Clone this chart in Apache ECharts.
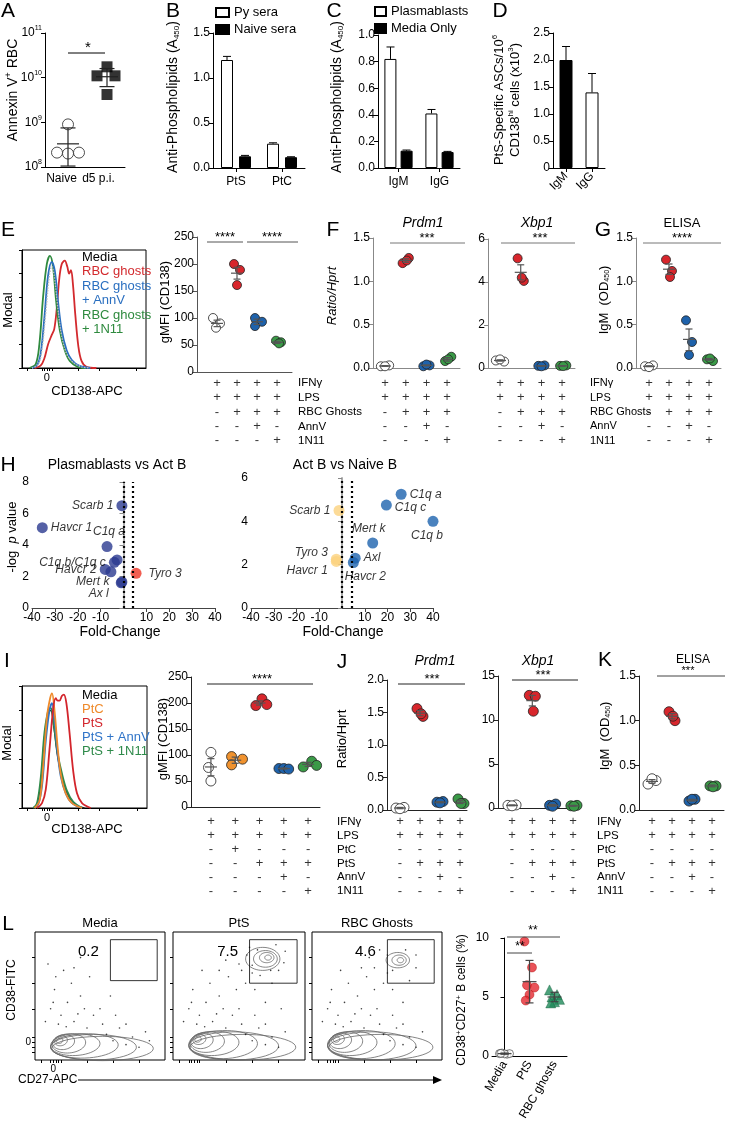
<!DOCTYPE html>
<html><head><meta charset="utf-8">
<script src="https://cdn.jsdelivr.net/npm/echarts@6/dist/echarts.min.js"></script>
<style>html,body{margin:0;padding:0;background:#fff}#c{width:738px;height:1128px}</style>
</head><body><div id="c"></div>
<script>
// ================= DATA =================
// A
const A_cats = ['Naive', 'd5 p.i.'];
const A_naive = [2.1e8, 2.0e8, 2.1e8, 9.0e8];
const A_naiveX = [0.6, 1.15, 1.7, 1.15];
const A_naiveStat = [3.3e8, 1.05e8, 7.5e8];
const A_d5 = [1.75e10, 1.1e10, 1.1e10, 4.2e9];
const A_d5X = [3.1, 2.6, 3.5, 3.1];
const A_d5Stat = [1.05e10, 6.3e9, 1.6e10];
// B
const B_cats = ['PtS', 'PtC'];
const B_py = [1.2, 0.27], B_pyErr = [1.24, 0.28];
const B_naive = [0.13, 0.12], B_naiveErr = [0.14, 0.125];
// C
const C_cats = ['IgM', 'IgG'];
const C_pb = [0.82, 0.41], C_pbErr = [0.91, 0.44];
const C_media = [0.13, 0.12], C_mediaErr = [0.135, 0.125];
// D
const D_cats = ['IgM', 'IgG'];
const D_vals = [2.0, 1.4], D_err = [2.25, 1.75];
// E histograms [position, % of mode]
const E_hRed = [[10,0],[15,2],[18,8],[21,20],[24,28],[26,33],[28,50],[30,75],[32,88],[34.5,91],[36.5,86],[38,80],[39.5,83],[41,72],[43,45],[45.5,18],[48,6],[52,1],[60,0]];
const E_hGreen = [[6,0],[11,3],[14,20],[17,60],[20,88],[22.5,95],[25,86],[27.5,57],[30.5,32],[34.5,15],[38.5,6],[45,1],[52,0]];
const E_hBlue = [[8,0],[12,2],[15,12],[18,42],[21,78],[24,90],[26.5,82],[29,57],[32,32],[36,15],[40,7],[46,2],[55,0]];
const E_hMedia = [[8,0],[13,3],[16,15],[19,45],[22,78],[24,86],[26,78],[29,50],[32,27],[36,12],[41,5],[48,1],[55,0]];
// E scatter (gMFI CD138)
const E_vals = [[100, 90, 82], [200, 189, 161], [100, 93, 85], [58, 55, 53]];
const E_jit = [[-0.2, 0.15, -0.05], [-0.15, 0.15, 0], [-0.1, 0.25, -0.1], [-0.05, 0.2, 0.1]];
const E_stat = [[90, 84, 96], [183, 172, 194], [93, 88, 98], [55, 53, 57]];
const E_rows = ['IFNγ', 'LPS', 'RBC Ghosts', 'AnnV', '1N11'];
const E_signs = ['++++', '++++', '-+++', '--+-', '---+'];
// F
const F1_vals = [[0.02, 0.03, 0.02], [1.21, 1.27, 1.24], [0.02, 0.03, 0.04], [0.08, 0.13, 0.10]];
const F1_stat = [[0.023, 0.02, 0.027], [1.24, 1.22, 1.26], [0.03, 0.025, 0.035], [0.10, 0.08, 0.12]];
const F2_vals = [[0.35, 0.3, 0.4], [5.1, 4.05, 4.2], [0.1, 0.12, 0.08], [0.1, 0.12, 0.09]];
const F2_stat = [[0.35, 0.32, 0.38], [4.45, 4.1, 4.8], [0.1, 0.09, 0.11], [0.1, 0.09, 0.11]];
// G
const G_vals = [[0.02, 0.03, 0.01], [1.25, 1.12, 1.05], [0.55, 0.3, 0.15], [0.1, 0.08, 0.11]];
const G_stat = [[0.02, 0.015, 0.025], [1.14, 1.08, 1.2], [0.33, 0.2, 0.45], [0.1, 0.09, 0.11]];
// H
const H1_genes = ['Scarb 1', 'Havcr 1', 'C1q a', 'C1q b/C1q c', '', 'Havcr 2', '', 'Mert k', 'Ax l', 'Tyro 3'];
const H1_fc = [-0.7, -35.5, -7.2, -4, -2.8, -8, -5.5, -0.7, -1.0, 5.5];
const H1_p = [6.5, 5.1, 3.9, 2.9, 3.05, 2.45, 2.3, 1.65, 1.6, 2.2];
const H2_genes = ['C1q a', 'C1q c', 'C1q b', 'Scarb 1', 'Mert k', 'Axl', 'Havcr 2', 'Tyro 3', 'Havcr 1'];
const H2_fc = [26, 19.5, 40, -1.3, 13.5, 5.8, 5, -2.5, -2.5];
const H2_p = [5.25, 4.75, 4.0, 4.5, 3.0, 2.3, 2.1, 2.25, 2.15];
const H_ticks = [-40, -30, -20, -10, 10, 20, 30, 40];
const H_cut = [0, 4.2];
// I histograms
const I_hOrange = [[10,0],[14,6],[17,35],[20,75],[22.5,90],[24,94],[26,80],[28.5,50],[31,28],[35,12],[40,4],[48,0]];
const I_hRed = [[12,0],[16,4],[19,15],[22,48],[25,82],[27,90],[28.5,88],[30,88],[32,92],[33.5,93],[35.5,86],[38,62],[41,30],[44,12],[48,4],[55,0]];
const I_hBlue = [[10,0],[13,3],[16,18],[19,55],[22,80],[24,86],[26,72],[28.5,45],[31,26],[35,12],[40,4],[48,0]];
const I_hGreen = [[9,0],[12,4],[15,25],[18,62],[21,80],[23,82],[25.5,68],[28.5,45],[32,28],[36,14],[41,5],[48,0]];
const I_hMedia = [[9,0],[12,3],[15,20],[18,58],[21,78],[23,80],[25.5,66],[28.5,42],[32,25],[36,12],[42,3],[50,0]];
// I scatter
const I_vals = [[105, 76, 50], [97, 92, 81], [208, 195, 197], [74, 74, 73], [88, 77, 80]];
const I_jit = [[0, -0.1, 0], [-0.15, 0.3, -0.15], [0.1, -0.15, 0.3], [-0.2, 0, 0.2], [0.15, -0.2, 0.35]];
const I_stat = [[77, 60, 93], [90, 84, 96], [200, 196, 204], [74, 73, 75], [82, 78, 86]];
const I_rows = ['IFNγ', 'LPS', 'PtC', 'PtS', 'AnnV', '1N11'];
const I_signs = ['+++++', '+++++', '-+---', '--+++', '---+-', '----+'];
// J, K
const J1_vals = [[0.03, 0.04, 0.02], [1.56, 1.44, 1.48], [0.12, 0.13, 0.11], [0.17, 0.1, 0.1]];
const J1_stat = [[0.03, 0.02, 0.04], [1.49, 1.45, 1.53], [0.12, 0.11, 0.13], [0.12, 0.1, 0.15]];
const J2_vals = [[0.3, 0.35, 0.25], [12.8, 12.7, 11.0], [0.3, 0.45, 0.2], [0.25, 0.3, 0.2]];
const J2_stat = [[0.3, 0.25, 0.35], [12.2, 11.6, 12.8], [0.3, 0.2, 0.4], [0.25, 0.2, 0.3]];
const K_vals = [[0.29, 0.33, 0.35], [1.1, 1.0, 1.05], [0.1, 0.12, 0.12], [0.27, 0.27, 0.26]];
const K_stat = [[0.32, 0.3, 0.34], [1.05, 1.02, 1.08], [0.11, 0.1, 0.12], [0.27, 0.26, 0.28]];
const JK_signs = ['++++', '++++', '----', '-+++', '--+-', '---+'];
const EG_jit = [[-0.2, 0.2, 0], [-0.15, 0.15, 0.05], [-0.15, 0.15, 0], [-0.1, 0.2, 0.05]];
// L flow contour rings [cx, cy, rx, ry, angle]
const L1_rings = [[19,15,2.5,2,20],[20,15,5,3.8,15],[22,14,8.5,5.8,10],[26,13,13,7.5,5],[31,12,19,8.5,3],[38,11,26,9.5,2],[45,10,33,10,0],[52,9,39,9.5,0]];
const L2_rings = [[19,16,2.5,2,20],[20,16,5,3.8,15],[22,15,8.5,6,10],[26,14,13,8,5],[31,13,19,9.5,3],[38,12,26,11,2],[46,11,34,11,0],[53,10,40,10,0],[72,80,2.5,2,0],[71,80,5.5,4,0],[70,79,9,6.5,0],[68,79,13,9,0]];
const L3_rings = [[19,16,2.5,2,20],[20,16,5,3.8,15],[22,15,8.5,6,10],[26,14,13,8,5],[31,13,19,9.5,3],[38,12,26,11,2],[46,11,34,11,0],[53,10,40,10,0],[68,78,2.5,2,0],[67,78,5.5,4,0],[66,78,9,6,0]];
const L1_dots = [[12,40],[20,35],[25,45],[30,30],[40,25],[45,35],[15,55],[35,50],[55,20],[60,15],[70,12],[8,30],[28,60],[50,40],[65,25],[75,18],[22,70],[42,65],[80,10],[10,75],[35,80],[58,50],[18,28],[24,26],[33,36],[14,45],[38,40],[52,28],[62,35],[70,28],[85,22],[16,65],[30,72],[48,88],[88,15]];
const L2_dots = [[12,40],[20,35],[25,45],[30,30],[40,25],[45,35],[15,55],[35,50],[55,20],[60,15],[70,12],[8,30],[28,60],[50,40],[65,25],[75,18],[22,70],[42,65],[80,10],[55,60],[60,68],[50,75],[45,82],[40,78],[62,55],[75,60],[80,70],[85,85],[58,88],[52,70],[35,70],[48,55],[70,45],[82,40],[18,28],[24,26],[33,36],[14,45],[38,40],[52,28],[62,35],[70,28],[85,22],[56,82],[64,86],[78,90],[84,76],[60,74],[66,66],[74,70]];
const L3_dots = [[12,40],[20,35],[25,45],[30,30],[40,25],[45,35],[15,55],[35,50],[55,20],[60,15],[70,12],[8,30],[28,60],[50,40],[65,25],[75,18],[22,70],[42,65],[80,10],[55,60],[58,68],[48,72],[44,80],[62,55],[75,62],[80,72],[52,86],[38,72],[48,55],[70,45],[18,28],[24,26],[33,36],[14,45],[38,40],[52,28],[62,35],[70,28],[85,22],[58,82],[72,86],[80,82],[62,70]];
const L_gates = [[58, 62, 94, 94], [58, 60, 94, 94], [58, 60, 94, 94]];
const L_gatePct = ['0.2', '7.5', '4.6'];
const L_titles = ['Media', 'PtS', 'RBC Ghosts'];
// L scatter
const L_cats = ['Media', 'PtS', 'RBC ghosts'];
const L_media = [0.2, 0.15, 0.25, 0.2, 0.18, 0.22];
const L_pts = [9.7, 7.5, 6.0, 5.8, 5.2, 4.7];
const L_rbc = [5.6, 5.2, 5.0, 4.8, 4.6, 4.5];
const L_jit = [-0.2, 0.1, -0.1, 0.2, 0, -0.15];
const L_stat = [[0.2, 0.15, 0.25], [6.3, 4.5, 8.1], [5.0, 4.6, 5.4]];

// ================= BUILD =================
const FONT = '"Liberation Sans", Arial, Helvetica, sans-serif';
const RED = '#d8262c', BLUE = '#1e62ab', GREEN = '#3a9a47', ORANGE = '#f0922e';
const grid = [], xAxis = [], yAxis = [], series = [], graphic = [];
function merge(a, b) { for (const k in b) { const v = b[k]; if (v && typeof v === 'object' && !Array.isArray(v) && a[k] && typeof a[k] === 'object' && !Array.isArray(a[k])) merge(a[k], v); else a[k] = v; } return a; }
function G(l, t, w, h, o) { grid.push(merge({ left: l, top: t, width: w, height: h }, o || {})); return grid.length - 1; }
function X(gi, o) { xAxis.push(merge({ gridIndex: gi, type: 'value', splitLine: { show: false }, axisLine: { show: true, lineStyle: { color: '#000', width: 1 } }, axisTick: { show: false }, axisLabel: { show: false, fontSize: 12, color: '#000', fontFamily: FONT } }, o || {})); return xAxis.length - 1; }
function Y(gi, o) { yAxis.push(merge({ gridIndex: gi, type: 'value', splitLine: { show: false }, axisLine: { show: true, lineStyle: { color: '#000', width: 1 } }, axisTick: { show: true, length: 4, lineStyle: { color: '#000' } }, axisLabel: { fontSize: 12, color: '#000', fontFamily: FONT, margin: 3 } }, o || {})); return yAxis.length - 1; }
function T(x, y, text, o) {
  o = o || {}; const rot = o.rot || 0; delete o.rot;
  graphic.push({ type: 'text', x: x, y: y, rotation: rot, z: 20, style: merge({ text: text, font: '12px ' + FONT, fill: '#000', align: 'center', verticalAlign: 'middle' }, o) });
}
function Ln(x1, y1, x2, y2, o) { graphic.push({ type: 'line', z: 20, shape: { x1, y1, x2, y2 }, style: merge({ stroke: '#000', lineWidth: 1 }, o || {}) }); }
function errRender(meanW, capW, color) {
  return function (params, api) {
    const x = api.value(0), a = api.coord([x, api.value(1)]), b = api.coord([x, api.value(2)]), c = api.coord([x, api.value(3)]);
    const st = { stroke: color, lineWidth: 1.2 };
    return { type: 'group', children: [
      { type: 'line', shape: { x1: a[0] - meanW / 2, y1: a[1], x2: a[0] + meanW / 2, y2: a[1] }, style: st },
      { type: 'line', shape: { x1: b[0], y1: b[1], x2: c[0], y2: c[1] }, style: st },
      { type: 'line', shape: { x1: b[0] - capW / 2, y1: b[1], x2: b[0] + capW / 2, y2: b[1] }, style: st },
      { type: 'line', shape: { x1: c[0] - capW / 2, y1: c[1], x2: c[0] + capW / 2, y2: c[1] }, style: st }] };
  };
}
function barErr(xi, yi, vals, tops, offset) {
  series.push({ type: 'custom', xAxisIndex: xi, yAxisIndex: yi, z: 5, silent: true,
    data: vals.map((v, i) => [i, v, tops[i]]),
    renderItem: (p, api) => { const a = api.coord([api.value(0), api.value(1)]), b = api.coord([api.value(0), api.value(2)]); const x = a[0] + offset;
      return { type: 'group', children: [
        { type: 'line', shape: { x1: x, y1: a[1], x2: x, y2: b[1] }, style: { stroke: '#000', lineWidth: 1 } },
        { type: 'line', shape: { x1: x - 4, y1: b[1], x2: x + 4, y2: b[1] }, style: { stroke: '#000', lineWidth: 1 } }] }; } });
}
function signTable(l, w, xmin, xmax, top, h, rows, signs, side, margin, lfs) {
  const gi = G(l, top, w, h);
  const xi = X(gi, { min: xmin, max: xmax, axisLine: { show: false } });
  const yi = Y(gi, { type: 'category', data: rows, inverse: true, position: side || 'left', axisLine: { show: false }, axisTick: { show: false },
    axisLabel: { show: !!side, interval: 0, align: 'left', margin: margin || 6, fontSize: lfs || 11.5 } });
  const data = [];
  signs.forEach((s, r) => { [...s].forEach((ch, c) => data.push({ value: [c + 1, r], sign: ch })); });
  series.push({ type: 'scatter', xAxisIndex: xi, yAxisIndex: yi, symbolSize: 1, silent: true, itemStyle: { color: 'rgba(0,0,0,0)' }, data, z: 6,
    label: { show: true, position: 'inside', formatter: p => p.data.sign, fontSize: 13, color: '#000', fontFamily: FONT } });
}
function dotPanel(p) {
  const gi = G(p.l, p.t, p.w, p.h);
  const ac = p.axisColor || '#444';
  const xi = X(gi, { min: p.xmin, max: p.xmax, axisLine: { lineStyle: { color: ac } } });
  const yi = Y(gi, { min: p.ymin, max: p.ymax, interval: p.interval, axisLine: { lineStyle: { color: ac } }, axisTick: { lineStyle: { color: ac } }, axisLabel: { formatter: p.fmt } });
  p.vals.forEach((col, c) => {
    series.push({ type: 'scatter', xAxisIndex: xi, yAxisIndex: yi, symbolSize: p.size || 9, z: 3,
      data: col.map((v, i) => [c + 1 + (p.jit ? p.jit[c][i] : 0), v]),
      itemStyle: { color: p.colors[c], borderColor: '#222', borderWidth: 0.8, opacity: 1 } });
  });
  series.push({ type: 'custom', xAxisIndex: xi, yAxisIndex: yi, z: 4, silent: true, renderItem: errRender(p.meanW || 12, p.capW || 7, '#555'),
    data: p.stat.map((s, c) => [c + 1, s[0], s[1], s[2]]) });
  return { xi, yi };
}
const f1 = v => v.toFixed(1);
const f0 = v => String(v);

// ---------- Panel letters ----------
[['A',8,11],['B',173,11],['C',334,11],['D',500,11],['E',8,230],['F',333,230],['G',603,230],['H',8,465],['I',7,661],['J',342,662],['K',605,660],['L',8,924]]
  .forEach(l => T(l[1], l[2], l[0], { font: '21px ' + FONT }));

// ---------- A ----------
{
  const gi = G(45, 33, 80, 134);
  const xi = X(gi, { min: 0, max: 4 });
  const yi = Y(gi, { type: 'log', logBase: 10, min: 1e8, max: 1e11,
    axisLabel: { formatter: v => '{b|10}{s|' + Math.round(Math.log10(v)) + '}', rich: { b: { fontSize: 12, fontFamily: FONT }, s: { fontSize: 7, fontFamily: FONT, padding: [0, 0, 9, 0] } } },
    minorTick: { show: false } });
  const gl = G(43, 33, 74, 134);
  X(gl, { type: 'category', data: A_cats, axisLine: { show: false }, axisLabel: { show: true, interval: 0, fontSize: 12, margin: 6 } });
  Y(gl, { show: false });
  series.push({ type: 'scatter', xAxisIndex: xi, yAxisIndex: yi, symbol: 'circle', symbolSize: 11, z: 3,
    data: A_naive.map((v, i) => [A_naiveX[i], v]), itemStyle: { color: '#fff', borderColor: '#222', borderWidth: 1 } });
  series.push({ type: 'scatter', xAxisIndex: xi, yAxisIndex: yi, symbol: 'rect', symbolSize: 11, z: 3,
    data: A_d5.map((v, i) => [A_d5X[i], v]), itemStyle: { color: '#000' } });
  series.push({ type: 'custom', xAxisIndex: xi, yAxisIndex: yi, z: 4, renderItem: errRender(22, 15, '#222'),
    data: [[1.15].concat(A_naiveStat), [3.1].concat(A_d5Stat)] });
  Ln(68, 53, 105, 53); T(88, 48, '*', { font: '15px ' + FONT });
  T(13, 90, '{n|Annexin V}{s|+}{n| RBC}', { rot: Math.PI / 2, rich: { n: { fontSize: 14, fontFamily: FONT }, s: { fontSize: 9, fontFamily: FONT, padding: [0, 0, 8, 0] } } });
}

// ---------- B ----------
{
  const gi = G(213, 33, 92, 135);
  const xi = X(gi, { type: 'category', data: B_cats, axisTick: { show: true, alignWithLabel: true, length: 4 }, axisLabel: { show: true, fontSize: 12, margin: 8 } });
  const yi = Y(gi, { min: 0, max: 1.5, interval: 0.5, axisLabel: { formatter: f1 } });
  series.push({ type: 'bar', name: 'Py sera', xAxisIndex: xi, yAxisIndex: yi, data: B_py, barWidth: 12, barGap: '50%', itemStyle: { color: '#fff', borderColor: '#000', borderWidth: 1 } });
  series.push({ type: 'bar', name: 'Naive sera', xAxisIndex: xi, yAxisIndex: yi, data: B_naive, barWidth: 12, barGap: '50%', itemStyle: { color: '#000', borderColor: '#000', borderWidth: 1 } });
  barErr(xi, yi, B_py, B_pyErr, -9); barErr(xi, yi, B_naive, B_naiveErr, 9);
  T(173, 97, 'Anti-Phospholipids (A{s|450})', { rot: Math.PI / 2, font: '14px ' + FONT, rich: { s: { fontSize: 8, fontFamily: FONT, padding: [8, 0, 0, 0] } } });
}
// ---------- C ----------
{
  const gi = G(378, 35, 82, 133);
  const xi = X(gi, { type: 'category', data: C_cats, axisTick: { show: true, alignWithLabel: true, length: 4 }, axisLabel: { show: true, fontSize: 12, margin: 8 } });
  const yi = Y(gi, { min: 0, max: 1.0, interval: 0.2, axisLabel: { formatter: f1 } });
  series.push({ type: 'bar', name: 'Plasmablasts', xAxisIndex: xi, yAxisIndex: yi, data: C_pb, barWidth: 12, barGap: '35%', itemStyle: { color: '#fff', borderColor: '#000', borderWidth: 1 } });
  series.push({ type: 'bar', name: 'Media Only', xAxisIndex: xi, yAxisIndex: yi, data: C_media, barWidth: 12, barGap: '35%', itemStyle: { color: '#000', borderColor: '#000', borderWidth: 1 } });
  barErr(xi, yi, C_pb, C_pbErr, -8); barErr(xi, yi, C_media, C_mediaErr, 8);
  T(337, 97, 'Anti-Phospholipids (A{s|450})', { rot: Math.PI / 2, font: '14px ' + FONT, rich: { s: { fontSize: 8, fontFamily: FONT, padding: [8, 0, 0, 0] } } });
}
// ---------- D ----------
{
  const gi = G(553, 33, 52, 135);
  const xi = X(gi, { type: 'category', data: D_cats, axisTick: { show: true, alignWithLabel: true, length: 4 }, axisLabel: { show: true, rotate: 45, fontSize: 12, margin: 6 } });
  const yi = Y(gi, { min: 0, max: 2.5, interval: 0.5, axisLabel: { formatter: v => v === 0 ? '0' : v.toFixed(1) } });
  series.push({ type: 'bar', xAxisIndex: xi, yAxisIndex: yi, barWidth: 13,
    data: D_vals.map((v, i) => ({ value: v, itemStyle: { color: i === 0 ? '#000' : '#fff', borderColor: '#000', borderWidth: 1 } })) });
  barErr(xi, yi, D_vals, D_err, 0);
  T(499, 100, 'PtS-Specific ASCs/10{s|6}', { rot: Math.PI / 2, font: '13px ' + FONT, rich: { s: { fontSize: 8, fontFamily: FONT, padding: [0, 0, 8, 0] } } });
  T(515, 100, 'CD138{s|hi} cells (x10{s|3})', { rot: Math.PI / 2, font: '13px ' + FONT, rich: { s: { fontSize: 8, fontFamily: FONT, padding: [0, 0, 8, 0] } } });
}

// ---------- histogram helper ----------
function histPanel(l, t, w, h, curves, legendItems, legX, legY0, legDY) {
  const gi = G(l, t, w, h, { show: true, borderColor: '#000', borderWidth: 1, backgroundColor: 'transparent' });
  const xi = X(gi, { min: 0, max: 100, axisTick: { show: true, length: 3, customValues: [4, 16, 18, 20, 22, 24, 45, 62, 92] }, axisLabel: { show: true, customValues: [20], formatter: () => '0', fontSize: 11, margin: 4 } });
  const yi = Y(gi, { min: 0, max: 100, interval: 20, axisLabel: { show: false }, axisTick: { length: 3 } });
  curves.forEach(c => series.push({ type: 'line', xAxisIndex: xi, yAxisIndex: yi, data: c.d, smooth: 0.35, showSymbol: false, silent: true, z: c.z || 2,
    lineStyle: { color: c.color, width: c.width || 1.8, type: c.type || 'solid' } }));
  legendItems.forEach((it, i) => T(legX, legY0 + i * legDY, it[0], { align: 'left', fill: it[1], font: '13px ' + FONT }));
}
// ---------- E ----------
histPanel(22, 250, 124, 118, [
  { d: E_hRed, color: '#d32a2e' }, { d: E_hGreen, color: '#2e8a3e' }, { d: E_hBlue, color: '#2a6fc0' },
  { d: E_hMedia, color: '#bbb', type: 'dotted', width: 1.4, z: 3 }],
  [['Media', '#000'], ['RBC ghosts', '#d32a2e'], ['RBC ghosts', '#2a6fc0'], ['+ AnnV', '#2a6fc0'], ['RBC ghosts', '#2e8a3e'], ['+ 1N11', '#2e8a3e']], 82, 257, 14.5);
T(8, 310, 'Modal', { rot: Math.PI / 2, font: '13px ' + FONT });
T(87, 391, 'CD138-APC', { font: '13px ' + FONT });

dotPanel({ l: 197, t: 237, w: 95, h: 135, xmin: 0, xmax: 4.75, ymin: 0, ymax: 250, interval: 50, fmt: f0, vals: E_vals, jit: E_jit, stat: E_stat, colors: ['#fff', RED, BLUE, GREEN], axisColor: '#555' });
signTable(197, 95, 0, 4.75, 376, 72, E_rows, E_signs, 'right', 6);
Ln(207, 242, 243, 242, { stroke: '#555' }); T(225, 237, '****', { font: '13px ' + FONT });
Ln(247, 242, 298, 242, { stroke: '#555' }); T(272, 237, '****', { font: '13px ' + FONT });
T(165, 302, 'gMFI (CD138)', { rot: Math.PI / 2, font: '13px ' + FONT });

// ---------- F ----------
dotPanel({ l: 373, t: 238, w: 87, h: 130, xmin: 0.42, xmax: 4.62, ymin: 0, ymax: 1.5, interval: 0.5, fmt: f1, vals: F1_vals, jit: EG_jit, stat: F1_stat, colors: ['#fff', RED, BLUE, GREEN], axisColor: '#888' });
signTable(373, 87, 0.42, 4.62, 376, 72, E_rows, E_signs, null);
Ln(390, 243, 465, 243, { stroke: '#777' }); T(427, 238, '***', { font: '13px ' + FONT });
T(423, 223, 'Prdm1', { font: 'italic 14px ' + FONT });
dotPanel({ l: 488, t: 239, w: 87, h: 129, xmin: 0.42, xmax: 4.62, ymin: 0, ymax: 6, interval: 2, fmt: f0, vals: F2_vals, jit: EG_jit, stat: F2_stat, colors: ['#fff', RED, BLUE, GREEN], axisColor: '#888' });
signTable(488, 87, 0.42, 4.62, 376, 72, E_rows, E_signs, null);
Ln(501, 243, 575, 243, { stroke: '#777' }); T(540, 238, '***', { font: '13px ' + FONT });
T(537, 223, 'Xbp1', { font: 'italic 14px ' + FONT });
T(332, 296, 'Ratio/Hprt', { rot: Math.PI / 2, font: 'italic 13px ' + FONT });

// ---------- G ----------
dotPanel({ l: 636, t: 238, w: 85, h: 130, xmin: 0.35, xmax: 4.6, ymin: 0, ymax: 1.5, interval: 0.5, fmt: f1, vals: G_vals, jit: EG_jit, stat: G_stat, colors: ['#fff', RED, BLUE, GREEN], axisColor: '#888' });
signTable(636, 85, 0.35, 4.6, 376, 72, E_rows, E_signs, 'left', 46, 11);
Ln(643, 243, 721, 243, { stroke: '#777' }); T(682, 238, '****', { font: '13px ' + FONT });
T(682, 223, 'ELISA', { font: '13px ' + FONT });
T(604, 300, 'IgM  (OD{s|450})', { rot: Math.PI / 2, font: '13px ' + FONT, rich: { s: { fontSize: 7, fontFamily: FONT, padding: [7, 0, 0, 0] } } });

// ---------- H ----------
function volcano(l, t, w, h, ymax, names, fc, p, colorFn, labelCfg) {
  const gi = G(l, t, w, h);
  const xi = X(gi, { min: -40, max: 40, axisLine: { lineStyle: { color: '#444' } }, axisTick: { show: true, length: 4, customValues: H_ticks, lineStyle: { color: '#444' } }, axisLabel: { show: true, customValues: H_ticks, fontSize: 12, margin: 4 } });
  const yi = Y(gi, { min: 0, max: ymax, interval: 2, axisLine: { lineStyle: { color: '#aaa', width: 2 } }, axisTick: { lineStyle: { color: '#888' } } });
  series.push({ type: 'scatter', xAxisIndex: xi, yAxisIndex: yi, symbolSize: 11, z: 4,
    data: names.map((n, i) => ({ value: [fc[i], p[i]], name: n, itemStyle: { color: colorFn(i) },
      label: { show: !!n, formatter: n, position: labelCfg[i][0], offset: labelCfg[i][1], distance: 3, fontSize: 12, fontStyle: 'italic', color: '#000', fontFamily: FONT } })),
    markLine: { silent: true, symbol: 'none', label: { show: false }, lineStyle: { type: [2, 3], color: '#000', width: 2.2 }, data: H_cut.map(v => ({ xAxis: v })) } });
}
volcano(32, 482, 183, 126, 8, H1_genes, H1_fc, H1_p, i => i === 9 ? '#ee3426' : '#2b3990',
  [['left', [0, 0]], ['right', [0, 0]], ['top', [2, 0]], ['left', [0, 0]], ['left', [0, 0]], ['left', [0, 0]], ['left', [0, 0]], ['left', [-4, 0]], ['left', [-4, 11]], ['right', [4, 0]]]);
volcano(251, 478, 182, 130, 6, H2_genes, H2_fc, H2_p, i => (i === 3 || i >= 7) ? '#fbd27e' : '#1d63ae',
  [['right', [0, 0]], ['right', [0, 3]], ['bottom', [-6, 0]], ['left', [0, 0]], ['top', [-4, 0]], ['right', [0, -1]], ['bottom', [12, 0]], ['left', [0, -7]], ['left', [0, 9]]]);
T(117, 465, 'Plasmablasts vs Act B', { font: '14px ' + FONT });
T(345, 465, 'Act B vs Naive B', { font: '14px ' + FONT });
T(12, 537, '{n|-log  }{i|p}{n| value}', { rot: Math.PI / 2, rich: { n: { fontSize: 13, fontFamily: FONT }, i: { fontSize: 13, fontFamily: FONT, fontStyle: 'italic' } } });
T(120, 632, 'Fold-Change', { font: '14px ' + FONT });
T(343, 632, 'Fold-Change', { font: '14px ' + FONT });

// ---------- I ----------
histPanel(22, 686, 125, 122, [
  { d: I_hMedia, color: '#222', width: 1.4 }, { d: I_hGreen, color: '#2e8a4a' }, { d: I_hBlue, color: '#2f74c8' },
  { d: I_hOrange, color: '#ef8a2a' }, { d: I_hRed, color: '#d3252c' }],
  [['Media', '#000'], ['PtC', '#ef8a2a'], ['PtS', '#d3252c'], ['PtS + AnnV', '#2f74c8'], ['PtS + 1N11', '#2e8a4a']], 82, 695, 14);
T(7, 743, 'Modal', { rot: Math.PI / 2, font: '13px ' + FONT });
T(87, 829, 'CD138-APC', { font: '13px ' + FONT });
dotPanel({ l: 191, t: 677, w: 129, h: 130, xmin: 0.18, xmax: 5.49, ymin: 0, ymax: 250, interval: 50, fmt: f0, vals: I_vals, jit: I_jit, stat: I_stat, colors: ['#fff', ORANGE, RED, BLUE, GREEN], axisColor: '#222', size: 10 });
signTable(191, 129, 0.18, 5.49, 815, 83, I_rows, I_signs, 'right', 17);
Ln(207, 684, 313, 684, { stroke: '#222' }); T(262, 679, '****', { font: '13px ' + FONT });
T(163, 739, 'gMFI (CD138)', { rot: Math.PI / 2, font: '13px ' + FONT });

// ---------- J ----------
dotPanel({ l: 387, t: 680, w: 80, h: 130, xmin: 0.35, xmax: 4.35, ymin: 0, ymax: 2.0, interval: 0.5, fmt: f1, vals: J1_vals, jit: EG_jit, stat: J1_stat, colors: ['#fff', RED, BLUE, GREEN], axisColor: '#222', size: 10 });
signTable(387, 80, 0.35, 4.35, 815, 83, I_rows, JK_signs, null);
Ln(398, 684, 465, 684, { stroke: '#222' }); T(432, 679, '***', { font: '13px ' + FONT });
T(435, 661, 'Prdm1', { font: 'italic 14px ' + FONT });
dotPanel({ l: 498, t: 676, w: 80, h: 132, xmin: 0.31, xmax: 4.25, ymin: 0, ymax: 15, interval: 5, fmt: f0, vals: J2_vals, jit: EG_jit, stat: J2_stat, colors: ['#fff', RED, BLUE, GREEN], axisColor: '#222', size: 10 });
signTable(498, 80, 0.31, 4.25, 815, 83, I_rows, JK_signs, null);
Ln(512, 680, 578, 680, { stroke: '#222' }); T(543, 675, '***', { font: '13px ' + FONT });
T(538, 661, 'Xbp1', { font: 'italic 14px ' + FONT });
T(342, 739, 'Ratio/Hprt', { rot: Math.PI / 2, font: '13px ' + FONT });

// ---------- K ----------
dotPanel({ l: 639, t: 676, w: 85, h: 134, xmin: 0.35, xmax: 4.6, ymin: 0, ymax: 1.5, interval: 0.5, fmt: f1, vals: K_vals, jit: EG_jit, stat: K_stat, colors: ['#fff', RED, BLUE, GREEN], axisColor: '#222', size: 10 });
signTable(639, 85, 0.35, 4.6, 815, 83, I_rows, JK_signs, 'left', 42);
Ln(657, 676, 725, 676, { stroke: '#444' }); T(688, 671, '***', { font: '11px ' + FONT });
T(693, 660, 'ELISA', { font: '12px ' + FONT });
T(605, 736, 'IgM  (OD{s|450})', { rot: Math.PI / 2, font: '13px ' + FONT, rich: { s: { fontSize: 7, fontFamily: FONT, padding: [7, 0, 0, 0] } } });

// ---------- L ----------
function ringRender(params, api) {
  const c = api.coord([api.value(0), api.value(1)]); const s = api.size([api.value(2), api.value(3)]); const a = api.value(4) * Math.PI / 180;
  const pts = []; for (let k = 0; k < 48; k++) { const t = k / 48 * Math.PI * 2; const ex = s[0] * Math.cos(t), ey = s[1] * Math.sin(t); pts.push([c[0] + ex * Math.cos(a) + ey * Math.sin(a), c[1] - ex * Math.sin(a) + ey * Math.cos(a)]); }
  return { type: 'polygon', shape: { points: pts }, style: { fill: 'none', stroke: '#666', lineWidth: 0.8 } };
}
const L_boxes = [[35, 130], [173, 132], [312, 130]];
const L_rings = [L1_rings, L2_rings, L3_rings], L_dots = [L1_dots, L2_dots, L3_dots];
L_boxes.forEach((b, k) => {
  const gi = G(b[0], 932, b[1], 128, { show: true, borderColor: '#000', borderWidth: 1 });
  const xi = X(gi, { min: 0, max: 100, axisLine: { show: false }, axisTick: { show: true, length: 3, customValues: [5, 12, 14, 16, 18, 20, 40, 60, 80], lineStyle: { color: '#000' } }, axisLabel: { show: k === 0, customValues: [14], formatter: () => '0', fontSize: 10, margin: 4 } });
  const yi = Y(gi, { min: 0, max: 100, axisLine: { show: false }, axisTick: { customValues: [6, 10, 14, 18, 40, 60, 80], length: 3 }, axisLabel: { show: k === 0, customValues: [14], formatter: () => '0', fontSize: 10, margin: 4 } });
  series.push({ type: 'scatter', xAxisIndex: xi, yAxisIndex: yi, symbolSize: 1.6, data: L_dots[k], itemStyle: { color: '#111' }, silent: true });
  series.push({ type: 'custom', xAxisIndex: xi, yAxisIndex: yi, renderItem: ringRender, data: L_rings[k], silent: true });
  series.push({ type: 'custom', xAxisIndex: xi, yAxisIndex: yi, silent: true, data: [L_gates[k].concat([k])],
    renderItem: (p, api) => { const a = api.coord([api.value(0), api.value(3)]), c = api.coord([api.value(2), api.value(1)]);
      return { type: 'group', children: [{ type: 'rect', shape: { x: a[0], y: a[1], width: c[0] - a[0], height: c[1] - a[1] }, style: { fill: 'none', stroke: '#000', lineWidth: 0.8 } },
        { type: 'text', style: { text: L_gatePct[api.value(4)], x: a[0] - 22, y: a[1] + 12, font: '15px ' + FONT, fill: '#000', align: 'center', verticalAlign: 'middle' } }] }; } });
  T(b[0] + b[1] / 2, 923, L_titles[k], { font: '13px ' + FONT });
});
T(12, 990, 'CD38-FITC', { rot: Math.PI / 2, font: '12px ' + FONT });
T(18, 1080, 'CD27-APC', { font: '12px ' + FONT, align: 'left' });
Ln(78, 1080, 436, 1080, { stroke: '#000' });
graphic.push({ type: 'polygon', z: 20, shape: { points: [[442, 1080], [433, 1076], [433, 1084]] }, style: { fill: '#000' } });
{
  const gi = G(492, 938, 75, 118);
  const xi = X(gi, { type: 'category', data: L_cats, axisTick: { show: false }, axisLabel: { show: true, interval: 0, rotate: 60, fontSize: 12, margin: 6 } });
  const xv = X(gi, { min: -0.5, max: 2.5, show: false });
  const yi = Y(gi, { min: 0, max: 10, interval: 5, axisLabel: { formatter: f0 } });
  series.push({ type: 'scatter', xAxisIndex: xv, yAxisIndex: yi, symbolSize: 8, data: L_media.map((v, i) => [0 + L_jit[i], v]), itemStyle: { color: '#fff', borderColor: '#333', borderWidth: 0.8 } });
  series.push({ type: 'scatter', xAxisIndex: xv, yAxisIndex: yi, symbolSize: 9, data: L_pts.map((v, i) => [1 + L_jit[i], v]), itemStyle: { color: '#e5282f', borderColor: '#a00', borderWidth: 0.5 } });
  series.push({ type: 'scatter', xAxisIndex: xv, yAxisIndex: yi, symbol: 'triangle', symbolSize: 10, data: L_rbc.map((v, i) => [2 + L_jit[i], v]), itemStyle: { color: '#1f8a5a', borderColor: '#0b5a35', borderWidth: 0.5 } });
  series.push({ type: 'custom', xAxisIndex: xv, yAxisIndex: yi, z: 5, renderItem: errRender(14, 8, '#444'), data: L_stat.map((s, c) => [c].concat(s)) });
  Ln(507, 937, 560, 937, { stroke: '#444' }); T(533, 931, '**', { font: '12px ' + FONT });
  Ln(507, 953, 532, 953, { stroke: '#444' }); T(520, 947, '**', { font: '12px ' + FONT });
  T(462, 1000, 'CD38{s|+}CD27{s|+} B cells (%)', { rot: Math.PI / 2, font: '12px ' + FONT, rich: { s: { fontSize: 8, fontFamily: FONT, padding: [0, 0, 7, 0] } } });
}

const chart = echarts.init(document.getElementById('c'), null, { renderer: 'canvas', width: 738, height: 1128 });
chart.setOption({
  animation: false, backgroundColor: '#fff',
  textStyle: { fontFamily: FONT },
  legend: [
    { data: ['Py sera', 'Naive sera'], left: 210, top: 1, orient: 'vertical', icon: 'rect', itemWidth: 13, itemHeight: 9, itemGap: 4, selectedMode: false, textStyle: { fontSize: 13, fontFamily: FONT, color: '#000' } },
    { data: ['Plasmablasts', 'Media Only'], left: 369, top: 0, orient: 'vertical', icon: 'rect', itemWidth: 11, itemHeight: 9, itemGap: 4, selectedMode: false, textStyle: { fontSize: 13, fontFamily: FONT, color: '#000' } }],
  grid, xAxis, yAxis, series, graphic
});
</script></body></html>
